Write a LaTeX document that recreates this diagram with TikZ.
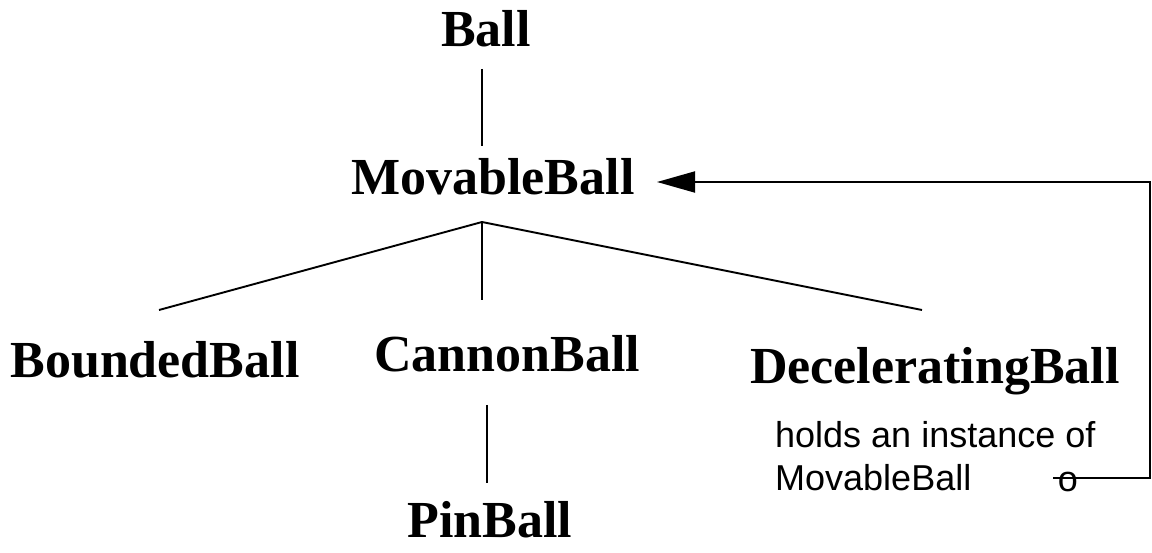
\documentclass[tikz,border=0pt]{standalone}
\usepackage{fontspec}
\setmainfont{Liberation Serif}
\newfontfamily\labelfont{Liberation Sans}
\usetikzlibrary{arrows.meta}
\begin{document}
\begin{tikzpicture}[x=1pt,y=-1pt,
  cls/.style={font=\bfseries\fontsize{52}{52}\selectfont, anchor=base, inner sep=0pt},
  note/.style={font=\labelfont\fontsize{36}{43}\selectfont, inner sep=0pt},
  link/.style={line width=1.9pt, line cap=butt},
  ref/.style={line width=1.9pt, -{Triangle[length=38pt,width=21pt]}}]
\useasboundingbox (0,0) rectangle (1152,553);

% class names
\node[cls] (ball) at (486,47) {Ball};
\node[cls] (mov)  at (493,195) {MovableBall};
\node[cls] (bnd)  at (155,378) {BoundedBall};
\node[cls] (can)  at (507,372) {CannonBall};
\node[cls] (dec)  at (935,384) {DeceleratingBall};
\node[cls] (pin)  at (490,537) {PinBall};

% annotation
\node[note, anchor=base west] (hold1) at (775,447) {holds an instance of};
\node[note, anchor=base west] (hold2) at (775,490) {MovableBall};
\node[note, anchor=base] (ring) at (1068,491) {o};

% connector ends
\coordinate (ballS) at (482,69);
\coordinate (movN)  at (482,146);
\coordinate (apex)  at (482,222);
\coordinate (bndN)  at (159,310);
\coordinate (canN)  at (482,300);
\coordinate (decN)  at (922,310);
\coordinate (canS)  at (487,405);
\coordinate (pinN)  at (487,483);
\coordinate (tip)   at (657,182);
\coordinate (c1)    at (1150,182);
\coordinate (c2)    at (1150,478);
\coordinate (tail)  at (1053,478);

% inheritance tree
\draw[link] (ballS) -- (movN);
\draw[link] (bndN) -- (apex) -- (decN);
\draw[link] (apex) -- (canN);
\draw[link] (canS) -- (pinN);

% reference back to MovableBall
\draw[ref] (tail) -- (c2) -- (c1) -- (tip);
\end{tikzpicture}
\end{document}
